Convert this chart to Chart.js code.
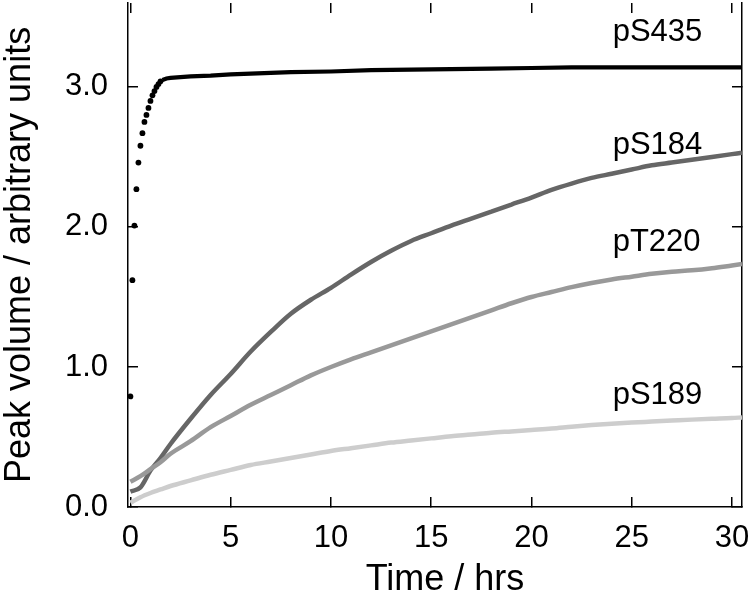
<!DOCTYPE html>
<html>
<head>
<meta charset="utf-8">
<script src="https://cdn.jsdelivr.net/npm/chart.js@4/dist/chart.umd.min.js"></script>
<style>
html,body{margin:0;padding:0;background:#fff;}
#wrap{position:relative;width:750px;height:605px;}
</style>
</head>
<body>
<div id="wrap"><canvas id="c"></canvas></div>
<script>
// ---- data ----
const seriesNames = ["pS435", "pS184", "pT220", "pS189"];

const pS435Times = [0, 0.1, 0.2, 0.3, 0.4, 0.5, 0.6, 0.7, 0.8, 0.9, 1.0, 1.1, 1.2, 1.3, 1.4, 1.5,
                    1.6, 1.8, 2, 3, 4, 5, 6, 7, 8, 10, 12, 15, 18, 20, 22, 25, 28, 30, 30.5];
const pS435Values = [0.79, 1.62, 2.01, 2.27, 2.46, 2.58, 2.67, 2.75, 2.80, 2.85, 2.90, 2.94, 2.97, 3.00, 3.02, 3.04,
                     3.05, 3.06, 3.065, 3.075, 3.08, 3.09, 3.095, 3.10, 3.105, 3.11, 3.12, 3.125, 3.13, 3.135, 3.14, 3.14, 3.14, 3.14, 3.14];

const times = [0, 0.5, 1, 1.5, 2, 3, 4, 5, 6, 7, 8, 9, 10, 11, 12, 13, 14, 15, 16, 17, 18, 19, 20,
               21, 22, 23, 24, 25, 26, 27, 28, 29, 30, 30.5];
const pS184Values = [0.11, 0.14, 0.26, 0.35, 0.45, 0.63, 0.80, 0.95, 1.11, 1.25, 1.38, 1.48, 1.565, 1.66, 1.75, 1.83,
                     1.90, 1.955, 2.01, 2.06, 2.11, 2.16, 2.21, 2.265, 2.31, 2.35, 2.38, 2.41, 2.44, 2.46, 2.48, 2.50, 2.52, 2.53];
const pT220Values = [0.18, 0.22, 0.27, 0.32, 0.38, 0.47, 0.57, 0.65, 0.73, 0.80, 0.87, 0.94, 1.00, 1.055, 1.105, 1.155,
                     1.205, 1.255, 1.305, 1.355, 1.405, 1.455, 1.50, 1.535, 1.57, 1.60, 1.625, 1.645, 1.665, 1.68, 1.69, 1.705, 1.725, 1.735];
const pS189Values = [0.03, 0.07, 0.10, 0.125, 0.15, 0.19, 0.23, 0.265, 0.30, 0.325, 0.35, 0.375, 0.40, 0.42, 0.44, 0.46,
                     0.475, 0.49, 0.505, 0.517, 0.53, 0.54, 0.55, 0.56, 0.573, 0.585, 0.595, 0.603, 0.61, 0.617, 0.624, 0.63, 0.635, 0.64];

const xTickValues = [0, 5, 10, 15, 20, 25, 30];
const yTickValues = [0, 1, 2, 3];

const xTitle = "Time / hrs";
const yTitle = "Peak volume / arbitrary units";

// ---- chart ----
const FONT = "'Liberation Sans', Arial, Helvetica, sans-serif";
const pts = (xs, ys) => xs.map((x, i) => ({x: x, y: ys[i]}));
const DOT_END = 1.55;

const textLabels = {
  id: 'textLabels',
  afterDatasetsDraw(chart, args, opts) {
    const {ctx, scales} = chart;
    ctx.save();
    ctx.fillStyle = '#000';
    ctx.font = opts.seriesFont;
    ctx.textAlign = 'left';
    ctx.textBaseline = 'alphabetic';
    opts.items.forEach(it => {
      ctx.fillText(it.text, scales.x.getPixelForValue(it.x), scales.y.getPixelForValue(it.y));
    });
    // x-axis title
    ctx.font = opts.titleFont;
    ctx.textAlign = 'center';
    ctx.textBaseline = 'middle';
    ctx.fillText(opts.xTitle.text, opts.xTitle.px, opts.xTitle.py);
    ctx.restore();
  }
};

function fixSize(prop, val) {
  return s => {
    s[prop] = val;
    s.paddingTop = 0; s.paddingBottom = 0; s.paddingLeft = 0; s.paddingRight = 0;
  };
}

const common = {showLine: true, pointRadius: 0, pointHoverRadius: 0, cubicInterpolationMode: 'monotone', fill: false};

new Chart(document.getElementById('c'), {
  type: 'scatter',
  data: {
    datasets: [
      Object.assign({}, common, {
        label: seriesNames[3], data: pts(times, pS189Values),
        borderColor: '#cdcdcd', backgroundColor: '#cdcdcd', borderWidth: 4.5
      }),
      Object.assign({}, common, {
        label: seriesNames[2], data: pts(times, pT220Values),
        borderColor: '#999999', backgroundColor: '#999999', borderWidth: 4.5
      }),
      Object.assign({}, common, {
        label: seriesNames[1], data: pts(times, pS184Values),
        borderColor: '#666666', backgroundColor: '#666666', borderWidth: 4.5
      }),
      Object.assign({}, common, {
        label: seriesNames[0], data: pts(pS435Times, pS435Values),
        borderColor: '#000', backgroundColor: '#000', borderWidth: 4.2,
        pointRadius: ctx => (ctx.raw && ctx.raw.x < DOT_END) ? 2.9 : 0,
        pointBorderWidth: 0,
        cubicInterpolationMode: 'default', tension: 0,
        segment: { borderColor: ctx => ctx.p0.parsed.x < DOT_END ? 'rgba(0,0,0,0)' : '#000' }
      })
    ]
  },
  options: {
    responsive: true,
    maintainAspectRatio: false,
    animation: false,
    events: [],
    layout: { padding: { top: 0, right: 8, bottom: 0, left: 0 } },
    plugins: {
      legend: { display: false },
      tooltip: { enabled: false },
      textLabels: {
        seriesFont: "31px " + FONT,
        titleFont: "36px " + FONT,
        xTitle: { text: xTitle, px: 445, py: 580 },
        items: [
          { text: seriesNames[0], x: 24.05, y: 3.327 },
          { text: seriesNames[1], x: 24.05, y: 2.523 },
          { text: seriesNames[2], x: 24.05, y: 1.826 },
          { text: seriesNames[3], x: 24.05, y: 0.737 }
        ]
      }
    },
    scales: {
      x: {
        type: 'linear', position: 'bottom', min: -0.12, max: 30.5,
        afterFit: fixSize('height', 98),
        afterBuildTicks: s => { s.ticks = xTickValues.map(v => ({value: v})); },
        border: { display: true, color: '#000', width: 1.5 },
        grid: { drawOnChartArea: false, drawTicks: true, tickLength: -10, color: '#000', lineWidth: 1.5 },
        ticks: { color: '#000', font: { family: FONT, size: 31 }, padding: 23, maxRotation: 0,
                 callback: v => String(v) },
        title: { display: false }
      },
      x2: {
        type: 'linear', position: 'top', min: -0.12, max: 30.5,
        afterFit: fixSize('height', 0),
        afterBuildTicks: s => { s.ticks = xTickValues.map(v => ({value: v})); },
        border: { display: false },
        grid: { drawOnChartArea: false, drawTicks: true, tickLength: -10, color: '#000', lineWidth: 1.5 },
        ticks: { display: false }
      },
      y: {
        type: 'linear', position: 'left', min: 0, max: 3.6,
        afterFit: fixSize('width', 128),
        afterBuildTicks: s => { s.ticks = yTickValues.map(v => ({value: v})); },
        border: { display: true, color: '#000', width: 1.5 },
        grid: { drawOnChartArea: false, drawTicks: true, tickLength: -10, color: '#000', lineWidth: 1.5 },
        ticks: { color: '#000', font: { family: FONT, size: 31 }, padding: 30,
                 callback: v => Number(v).toFixed(1) },
        title: { display: true, text: yTitle, color: '#000', font: { family: FONT, size: 36, lineHeight: 1.1 }, padding: { top: 0, bottom: 0 } }
      },
      y2: {
        type: 'linear', position: 'right', min: 0, max: 3.6,
        afterFit: fixSize('width', 0),
        afterBuildTicks: s => { s.ticks = yTickValues.map(v => ({value: v})); },
        border: { display: true, color: '#000', width: 1.5 },
        grid: { drawOnChartArea: false, drawTicks: true, tickLength: -10, color: '#000', lineWidth: 1.5 },
        ticks: { display: false }
      }
    }
  },
  plugins: [textLabels]
});
</script>
</body>
</html>
